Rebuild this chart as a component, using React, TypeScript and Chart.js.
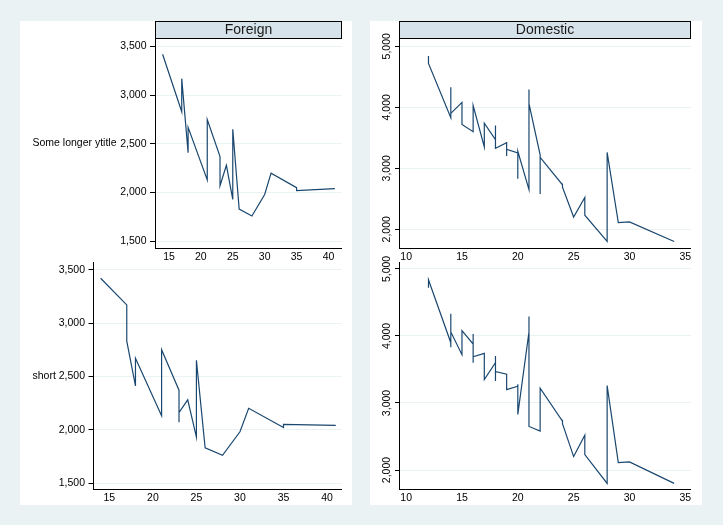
import React, { useEffect, useRef } from "react";
import { Chart, registerables } from "chart.js";

Chart.register(...registerables);

// ---------------- data ----------------
const foreignXTicks = [15, 20, 25, 30, 35, 40];
const domesticXTicks = [10, 15, 20, 25, 30, 35];
const foreignYTicks = [1500, 2000, 2500, 3000, 3500];
const domesticYTicks = [2000, 3000, 4000, 5000];

const foreignTopMpg = [14, 17, 17, 18, 18, 21, 21, 23, 23, 23, 24, 25, 25, 25, 25, 26, 28, 30, 31, 35, 35, 41];
const foreignTopWeight = [3420, 2830, 3170, 2410, 2670, 2130, 2750, 2370, 2160, 2070, 2280, 1930, 1990, 2240, 2650, 1830, 1760, 1980, 2200, 2050, 2020, 2040];

const foreignBottomMpg = [14, 17, 17, 18, 18, 21, 21, 23, 23, 23, 24, 25, 25, 25, 25, 26, 28, 30, 31, 35, 35, 41];
const foreignBottomWeight = [3420, 3170, 2830, 2410, 2670, 2130, 2750, 2370, 2070, 2160, 2280, 1930, 1990, 2240, 2650, 1830, 1760, 1980, 2200, 2020, 2050, 2040];

const domesticTopMpg = [12, 12, 14, 14, 14, 14, 14, 15, 15, 16, 16, 16, 16, 17, 17, 18, 18, 18, 18, 18, 18, 18, 19, 19, 19, 19, 19, 19, 19, 19, 20, 20, 20, 21, 21, 21, 22, 22, 22, 22, 22, 24, 24, 24, 25, 26, 26, 28, 28, 29, 30, 34];
const domesticTopWeight = [4840, 4720, 3830, 4330, 4130, 4060, 3900, 4080, 3720, 3600, 3690, 3880, 4030, 3350, 3740, 3470, 3700, 3690, 3670, 3600, 3370, 3330, 3420, 3430, 3400, 3370, 3200, 3210, 3300, 3310, 3250, 2830, 3280, 2650, 4290, 4060, 3220, 2580, 2640, 2930, 3180, 2730, 2750, 2690, 2200, 2520, 2230, 1800, 3260, 2110, 2120, 1800];

const domesticBottomMpg = [12, 12, 14, 14, 14, 14, 14, 15, 15, 16, 16, 16, 16, 17, 17, 18, 18, 18, 18, 18, 18, 18, 19, 19, 19, 19, 19, 19, 19, 19, 20, 20, 20, 21, 21, 21, 22, 22, 22, 22, 22, 24, 24, 24, 25, 26, 26, 28, 28, 29, 30, 34];
const domesticBottomWeight = [4720, 4840, 3900, 3830, 4330, 4130, 4060, 3720, 4080, 3880, 4030, 3600, 3690, 3740, 3350, 3600, 3700, 3330, 3370, 3670, 3690, 3470, 3430, 3420, 3400, 3370, 3310, 3300, 3210, 3200, 3250, 3280, 2830, 4060, 4290, 2650, 2580, 2640, 2930, 3180, 3220, 2730, 2750, 2690, 2200, 2520, 2230, 1800, 3260, 2110, 2120, 1800];

// axis ranges
const foreignTopXRange = [12.81, 42.12];
const foreignTopYRange = [1431, 3577];
const foreignBottomXRange = [13.18, 41.72];
const foreignBottomYRange = [1441, 3572];
const domesticXRange = [9.36, 35.51];
const domesticTopYRange = [1693, 5120];
const domesticBottomYRange = [1712, 5104];

// ---------------- styles ----------------
const FONT = "'Liberation Sans', Arial, Helvetica, sans-serif";
const NAVY = "#1a476f";
const GRID = "#eaf2f3";
const OUTER_BG = "#eaf2f3";
const STRIP_FILL = "#d7e3ea";

const decorPlugin = {
  id: "decor",
  afterDraw(chart: any, _args: any, opts: any) {
    const { ctx, chartArea } = chart;
    ctx.save();
    if (opts.strip) {
      const x0 = Math.round(chartArea.left) + 0.5;
      const x1 = Math.round(chartArea.right) - 0.5;
      const yb = Math.round(chartArea.top) - 0.5;
      ctx.fillStyle = STRIP_FILL;
      ctx.fillRect(x0, 0.5, x1 - x0, yb - 0.5);
      ctx.strokeStyle = "#000";
      ctx.lineWidth = 1;
      ctx.strokeRect(x0, 0.5, x1 - x0, yb - 0.5);
      ctx.font = `14px ${FONT}`;
      ctx.fillStyle = "#1a1a1a";
      ctx.textAlign = "center";
      ctx.textBaseline = "middle";
      ctx.fillText(opts.strip, (chartArea.left + chartArea.right) / 2, yb / 2 + 0.5);
    }
    if (opts.yTitle) {
      ctx.font = `10.5px ${FONT}`;
      ctx.fillStyle = "#000";
      ctx.textAlign = "left";
      ctx.textBaseline = "middle";
      ctx.fillText(opts.yTitle, 12.5, (chartArea.top + chartArea.bottom) / 2);
    }
    ctx.restore();
  },
};

type PanelProps = {
  left: number;
  top: number;
  width: number;
  height: number;
  padTop: number;
  yAxisWidth: number;
  xAxisHeight: number;
  xs: number[];
  ys: number[];
  xRange: number[];
  yRange: number[];
  xTicks: number[];
  yTicks: number[];
  rotated: boolean;
  strip?: string;
  yTitle?: string;
};

function Panel(p: PanelProps) {
  const ref = useRef<HTMLCanvasElement | null>(null);
  useEffect(() => {
    if (!ref.current) return;
    const zeroPad = (s: any) => {
      s.paddingLeft = 0;
      s.paddingRight = 0;
      s.paddingTop = 0;
      s.paddingBottom = 0;
    };
    const chart = new Chart(ref.current, {
      type: "line",
      data: {
        datasets: [
          {
            data: p.xs.map((x, i) => ({ x, y: p.ys[i] })),
            borderColor: NAVY,
            borderWidth: 1.2,
            pointRadius: 0,
            fill: false,
            tension: 0,
          },
        ],
      },
      options: {
        animation: false,
        responsive: false,
        events: [],
        layout: { padding: { top: p.padTop, left: 0, right: 0, bottom: 0 } },
        plugins: {
          legend: { display: false },
          tooltip: { enabled: false },
          title: { display: false },
          decor: { strip: p.strip, yTitle: p.yTitle },
        } as any,
        scales: {
          x: {
            type: "linear",
            min: p.xRange[0],
            max: p.xRange[1],
            afterBuildTicks: (s: any) => {
              s.ticks = p.xTicks.map((v) => ({ value: v }));
            },
            afterFit: (s: any) => {
              s.height = p.xAxisHeight;
              zeroPad(s);
            },
            grid: { display: false, drawTicks: false },
            border: { display: true, color: "#000", width: 1 },
            ticks: {
              autoSkip: false,
              padding: 3,
              color: "#000",
              font: { family: FONT, size: 10.5 },
              maxRotation: 0,
              minRotation: 0,
            },
          },
          y: {
            type: "linear",
            min: p.yRange[0],
            max: p.yRange[1],
            afterBuildTicks: (s: any) => {
              s.ticks = p.yTicks.map((v) => ({ value: v }));
            },
            afterFit: (s: any) => {
              s.width = p.yAxisWidth;
              zeroPad(s);
            },
            grid: {
              display: true,
              color: GRID,
              lineWidth: 1,
              drawTicks: true,
              tickLength: p.rotated ? 4 : 5,
              tickColor: "#000",
              tickWidth: 1,
            },
            border: { display: true, color: "#000", width: 1 },
            ticks: p.rotated
              ? {
                  autoSkip: false,
                  minRotation: 90,
                  maxRotation: 90,
                  crossAlign: "center",
                  padding: -5.6,
                  color: "#000",
                  font: { family: FONT, size: 10.5 },
                  callback: (v: any) => Number(v).toLocaleString("en-US"),
                }
              : {
                  autoSkip: false,
                  padding: 3.5,
                  color: "#000",
                  font: { family: FONT, size: 10.5 },
                  callback: (v: any) => Number(v).toLocaleString("en-US"),
                },
          },
        },
      } as any,
      plugins: [decorPlugin as any],
    });
    return () => chart.destroy();
  }, []);
  return (
    <canvas
      ref={ref}
      width={p.width}
      height={p.height}
      style={{
        position: "absolute",
        left: p.left,
        top: p.top,
        width: p.width,
        height: p.height,
      }}
    />
  );
}

export default function App() {
  return (
    <div
      style={{
        position: "absolute",
        left: 0,
        top: 0,
        width: 723,
        height: 525,
        background: OUTER_BG,
        overflow: "hidden",
      }}
    >
      <div style={{ position: "absolute", left: 20, top: 21, width: 332, height: 484, background: "#fff" }} />
      <div style={{ position: "absolute", left: 370, top: 21, width: 332, height: 484, background: "#fff" }} />
      <Panel
        left={20}
        top={21}
        width={322}
        height={245}
        padTop={18}
        yAxisWidth={135}
        xAxisHeight={18}
        xs={foreignTopMpg}
        ys={foreignTopWeight}
        xRange={foreignTopXRange}
        yRange={foreignTopYRange}
        xTicks={foreignXTicks}
        yTicks={foreignYTicks}
        rotated={false}
        strip="Foreign"
        yTitle="Some longer ytitle"
      />
      <Panel
        left={370}
        top={21}
        width={321}
        height={245}
        padTop={18}
        yAxisWidth={29}
        xAxisHeight={18}
        xs={domesticTopMpg}
        ys={domesticTopWeight}
        xRange={domesticXRange}
        yRange={domesticTopYRange}
        xTicks={domesticXTicks}
        yTicks={domesticYTicks}
        rotated={true}
        strip="Domestic"
      />
      <Panel
        left={20}
        top={250}
        width={322}
        height={257}
        padTop={12}
        yAxisWidth={73.5}
        xAxisHeight={17.7}
        xs={foreignBottomMpg}
        ys={foreignBottomWeight}
        xRange={foreignBottomXRange}
        yRange={foreignBottomYRange}
        xTicks={foreignXTicks}
        yTicks={foreignYTicks}
        rotated={false}
        yTitle="short"
      />
      <Panel
        left={370}
        top={250}
        width={321}
        height={257}
        padTop={12}
        yAxisWidth={29}
        xAxisHeight={17.7}
        xs={domesticBottomMpg}
        ys={domesticBottomWeight}
        xRange={domesticXRange}
        yRange={domesticBottomYRange}
        xTicks={domesticXTicks}
        yTicks={domesticYTicks}
        rotated={true}
      />
    </div>
  );
}
